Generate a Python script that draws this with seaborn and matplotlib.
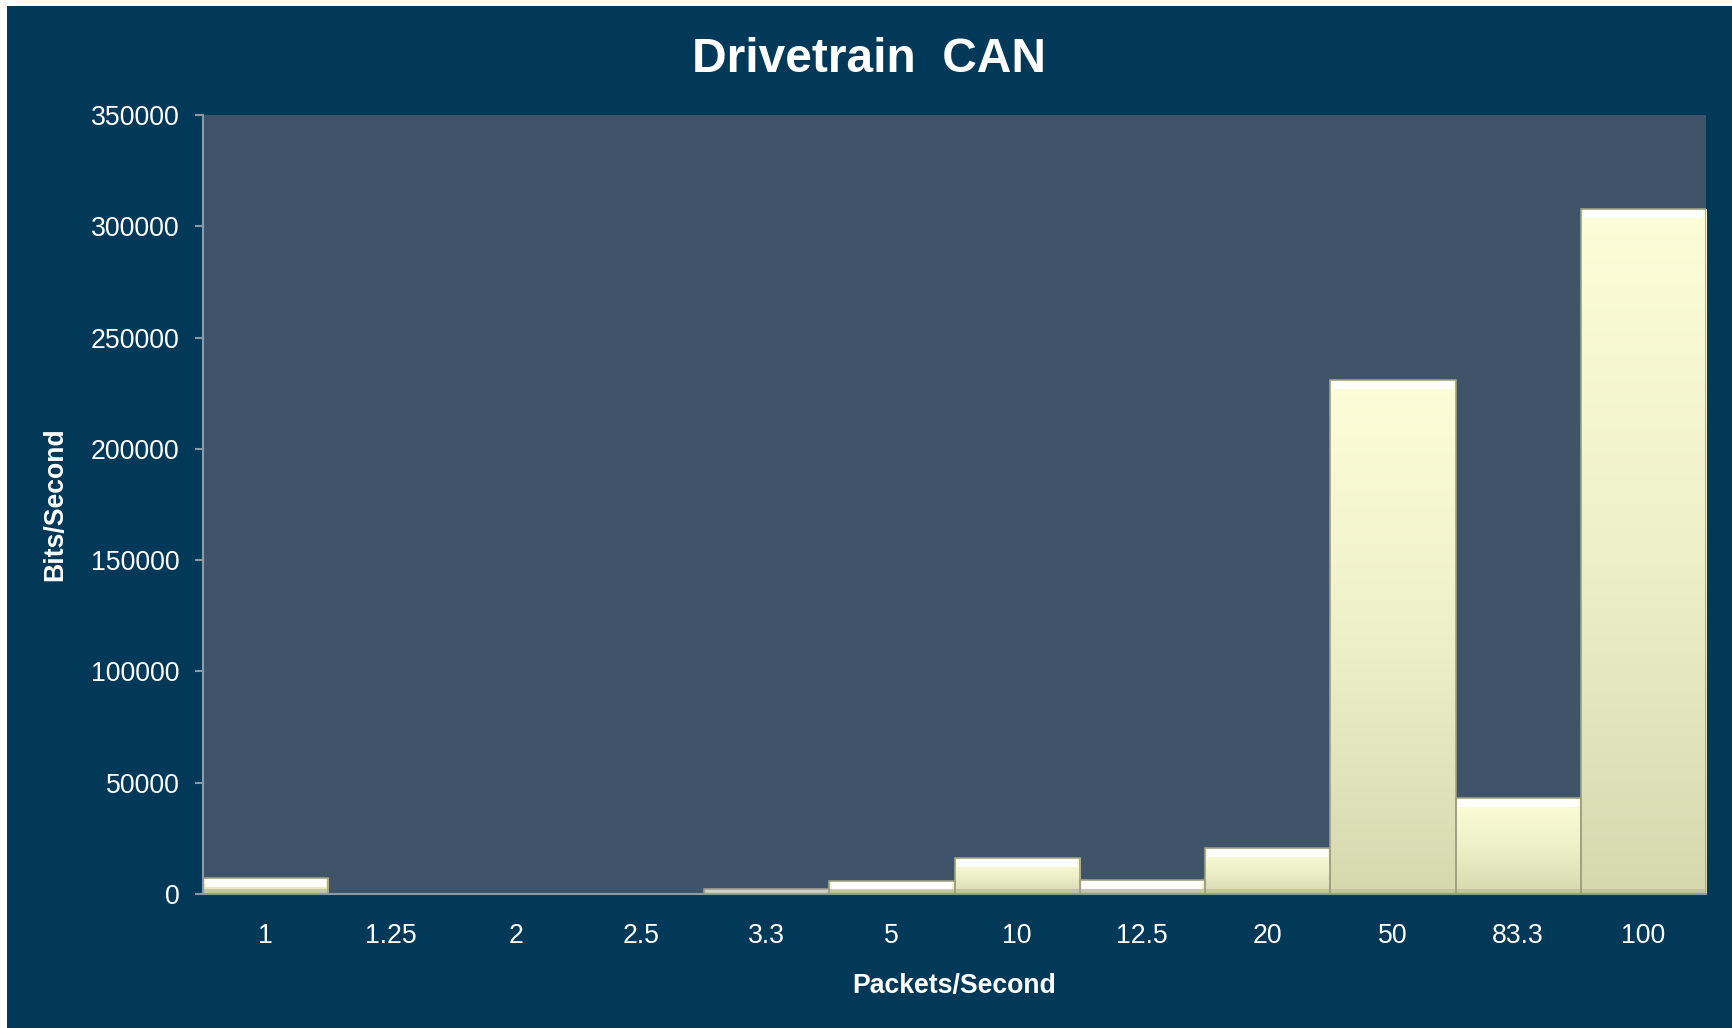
import numpy as np
import pandas as pd
import matplotlib
matplotlib.use("Agg")
import matplotlib.pyplot as plt
from matplotlib.patches import Rectangle
from matplotlib.colors import LinearSegmentedColormap
import seaborn as sns

# ---- data ----
packets_per_second = ["1", "1.25", "2", "2.5", "3.3", "5", "10", "12.5", "20", "50", "83.3", "100"]
bits_per_second = [7300, 0, 0, 0, 2200, 5800, 16000, 6500, 20600, 231000, 43100, 307700]
y_ticks = [0, 50000, 100000, 150000, 200000, 250000, 300000, 350000]
title_text = "Drivetrain  CAN"
x_label = "Packets/Second"
y_label = "Bits/Second"

# ---- style ----
BG = "#023958"
PLOT_BG = "#3f5469"
SPINE = "#8c9aa6"
BAR = "#eef0c8"
sns.set_theme(style="white")
plt.rcParams["font.family"] = ["Liberation Sans", "DejaVu Sans"]

fig = plt.figure(figsize=(17.32, 10.28), dpi=100, facecolor="white")
fig.patches.append(Rectangle((7 / 1732, 0), 1 - 7 / 1732, 1 - 6 / 1028,
                             transform=fig.transFigure, facecolor=BG,
                             edgecolor="none", zorder=-10))
ax = fig.add_axes([203 / 1732, (1028 - 894) / 1028, (1706 - 203) / 1732, (894 - 115) / 1028])
ax.set_facecolor(PLOT_BG)

df = pd.DataFrame({"pps": packets_per_second, "bps": bits_per_second})
sns.barplot(data=df, x="pps", y="bps", color=BAR, width=1.0, saturation=1,
            edgecolor="none", linewidth=0, ax=ax, zorder=2)

ax.set_ylim(0, 350000)
ax.set_xlim(-0.5, len(packets_per_second) - 0.5)
ax.set_yticks(y_ticks)
ax.set_yticklabels([str(v) for v in y_ticks])

# gradient + bevel highlight on each bar, derived from the bar patches
cmap = LinearSegmentedColormap.from_list("barg", ["#d6d8ae", "#eef0c8", "#fdfed9"])
ax_h_px = (894 - 115)
data_per_px = 350000 / ax_h_px
for p in list(ax.patches):
    h = p.get_height()
    if h <= 0:
        continue
    x0 = p.get_x()
    w = p.get_width()
    grad = np.linspace(0, 1, 256).reshape(-1, 1)
    im = ax.imshow(grad, cmap=cmap, origin="lower", aspect="auto",
                   extent=(x0, x0 + w, 0, h), zorder=2.1, interpolation="bilinear")
    im.set_clip_path(p)
    band = min(9 * data_per_px, h)
    hl = Rectangle((x0 + 0.02, h - band), w - 0.04, band, facecolor="#ffffff",
                   edgecolor="none", zorder=2.2, alpha=0.95)
    ax.add_patch(hl)
    hl.set_clip_path(p)
    sh = Rectangle((x0, 0), w, min(5 * data_per_px, h), facecolor="#b4b596",
                   edgecolor="none", zorder=2.2, alpha=0.6)
    ax.add_patch(sh)
    sh.set_clip_path(p)
    ax.add_patch(Rectangle((x0, 0), w, h, facecolor="none", edgecolor="#9fa083",
                           linewidth=1.2, zorder=2.3))

ax.set_xlim(-0.5, len(packets_per_second) - 0.5)
ax.set_ylim(0, 350000)

for s in ["top", "right"]:
    ax.spines[s].set_visible(False)
for s in ["left", "bottom"]:
    ax.spines[s].set_color(SPINE)
    ax.spines[s].set_linewidth(1.5)
    ax.spines[s].set_zorder(5)

ax.tick_params(axis="y", which="major", left=True, length=6, width=1.5, color=SPINE,
               labelcolor="white", labelsize=19.2, pad=11, direction="out")
ax.tick_params(axis="x", which="major", bottom=False, length=0,
               labelcolor="white", labelsize=19.2, pad=21)

ax.set_xlabel(x_label, color="white", fontsize=19.2, fontweight="bold")
ax.set_ylabel(y_label, color="white", fontsize=19.2, fontweight="bold")
ax.xaxis.set_label_coords(0.5, -0.1185)
ax.xaxis.label.set_verticalalignment("center")
ax.yaxis.set_label_coords(-0.098, 0.5)
ax.yaxis.label.set_verticalalignment("center")

fig.suptitle(title_text, x=0.502, y=0.942, va="center", color="white",
             fontsize=34.5, fontweight="bold")

fig.savefig("out.png", dpi=100, facecolor=fig.get_facecolor())
